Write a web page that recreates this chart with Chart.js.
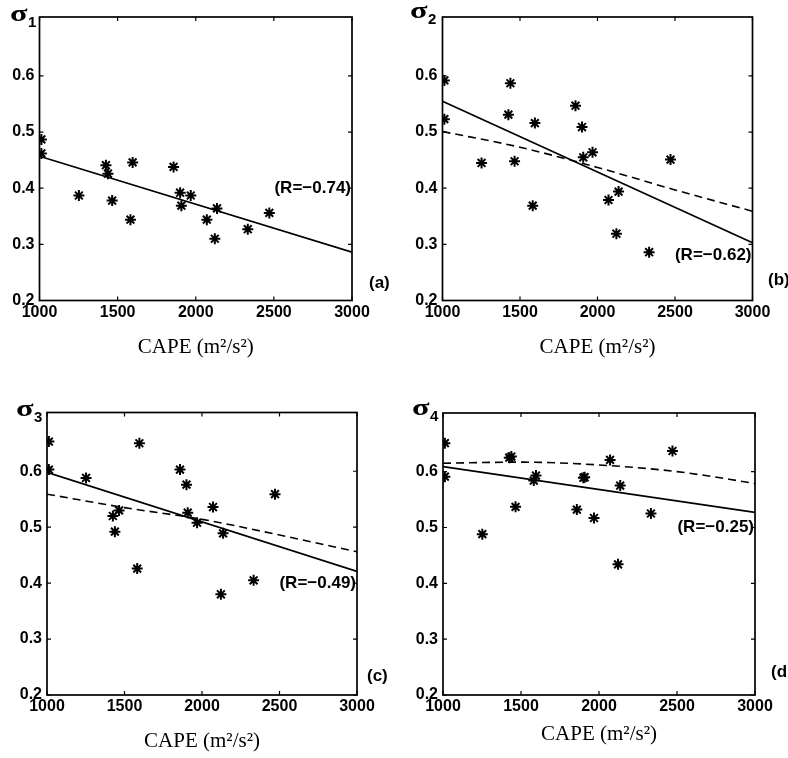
<!DOCTYPE html>
<html>
<head>
<meta charset="utf-8">
<script src="https://cdn.jsdelivr.net/npm/chart.js@4.4.1/dist/chart.umd.min.js"></script>
<style>
  body { margin: 0; background: #fff; }
  #wrap { position: relative; width: 788px; height: 758px; overflow: hidden; background: #fff; }
  .panel { position: absolute; width: 394px; height: 379px; }
</style>
</head>
<body>
<div id="wrap">
  <div class="panel" style="left:0;top:0"><canvas id="pa" width="394" height="379"></canvas></div>
  <div class="panel" style="left:394px;top:0"><canvas id="pb" width="394" height="379"></canvas></div>
  <div class="panel" style="left:0;top:379px"><canvas id="pc" width="394" height="379"></canvas></div>
  <div class="panel" style="left:394px;top:379px"><canvas id="pd" width="394" height="379"></canvas></div>
</div>
<script>
// CAPE of each case (m2/s2), same cases in all four panels
const cape = [1012, 1012, 1252, 1425, 1438, 1465, 1582, 1596, 1858, 1900, 1908, 1968, 2071, 2122, 2136, 2333, 2471];
const sigma1 = [0.487, 0.462, 0.387, 0.441, 0.426, 0.378, 0.344, 0.446, 0.438, 0.392, 0.369, 0.387, 0.344, 0.310, 0.364, 0.327, 0.356];
const sigma2 = [0.592, 0.523, 0.445, 0.531, 0.587, 0.448, 0.369, 0.516, 0.547, 0.509, 0.455, 0.464, 0.379, 0.319, 0.394, 0.286, 0.451];
const sigma3 = [0.653, 0.603, 0.588, 0.520, 0.492, 0.530, 0.426, 0.650, 0.603, 0.576, 0.526, 0.508, 0.536, 0.380, 0.489, 0.405, 0.559];
const sigma4 = [0.651, 0.591, 0.488, 0.625, 0.627, 0.537, 0.584, 0.593, 0.532, 0.589, 0.590, 0.517, 0.621, 0.434, 0.575, 0.525, 0.637];

// regression lines (solid)
const fitX = [1000, 3000];
const fit1 = [0.457, 0.286];
const fit2 = [0.555, 0.303];
const fit3 = [0.598, 0.421];
const fit4 = [0.609, 0.527];

// dashed curves (panels b, c, d)
const curveX = [1000, 1500, 2000, 2500, 3000];
const curve2 = [0.501, 0.473, 0.437, 0.397, 0.359];
const curve3 = [0.559, 0.535, 0.514, 0.486, 0.456];
const curve4 = [0.615, 0.617, 0.612, 0.600, 0.579];

const xTicks = [1000, 1500, 2000, 2500, 3000];
const yTicks = [0.2, 0.3, 0.4, 0.5, 0.6];

const sigmaSubs = ['1', '2', '3', '4'];
const rTexts = ['(R=\u22120.74)', '(R=\u22120.62)', '(R=\u22120.49)', '(R=\u22120.25)'];
const panelTags = ['(a)', '(b)', '(c)', '(d'];
const xTitle = 'CAPE (m\u00b2/s\u00b2)';

const sans = '"Liberation Sans", Arial, sans-serif';

function pairs(xs, ys) {
  return xs.map((x, i) => ({ x: x, y: ys[i] }));
}

// box + inward ticks + the small texts, drawn on the chart's own scales
const framePlugin = {
  id: 'frame',
  afterDraw(chart, args, o) {
    const ctx = chart.ctx;
    const a = chart.chartArea;
    const xs = chart.scales.x, ys = chart.scales.y;
    ctx.save();
    ctx.strokeStyle = '#000';
    ctx.lineWidth = 1.7;
    ctx.strokeRect(a.left, a.top, a.right - a.left, a.bottom - a.top);
    ctx.lineWidth = 1.2;
    ctx.beginPath();
    xTicks.forEach(v => {
      const px = xs.getPixelForValue(v);
      ctx.moveTo(px, a.bottom); ctx.lineTo(px, a.bottom - 4);
      ctx.moveTo(px, a.top); ctx.lineTo(px, a.top + 4);
    });
    yTicks.forEach(v => {
      const py = ys.getPixelForValue(v);
      ctx.moveTo(a.left, py); ctx.lineTo(a.left + 4, py);
      ctx.moveTo(a.right, py); ctx.lineTo(a.right - 4, py);
    });
    ctx.stroke();

    ctx.fillStyle = '#000';
    // sigma label (wide, squat symbol glyph like the original)
    ctx.textAlign = 'left';
    ctx.textBaseline = 'alphabetic';
    ctx.save();
    ctx.translate(o.sig[0], o.sig[1]);
    ctx.scale(1.4, 1);
    ctx.font = 'bold 23px "Liberation Serif", serif';
    ctx.fillText('\u03c3', 0, 0);
    ctx.restore();
    ctx.font = 'bold 15px ' + sans;
    ctx.fillText(o.sub, o.sig[0] + 18, o.sig[1] + 6);
    // correlation text, right aligned to the box
    ctx.font = 'bold 17px ' + sans;
    ctx.textAlign = 'right';
    ctx.textBaseline = 'middle';
    ctx.fillText(o.r, a.right - 1, ys.getPixelForValue(o.rAt));
    // panel tag
    ctx.textAlign = 'left';
    ctx.fillText(o.tag, o.tagPos[0], o.tagPos[1]);
    ctx.restore();
  }
};

function makePanel(id, sig, fit, curve, box, opts) {
  const datasets = [{
    data: pairs(cape, sig),
    pointStyle: 'star',
    pointRadius: 5.5,
    pointBorderWidth: 2,
    borderColor: '#000',
    backgroundColor: '#000',
    showLine: false
  }, {
    data: pairs(fitX, fit),
    showLine: true,
    pointRadius: 0,
    borderColor: '#000',
    borderWidth: 1.7
  }];
  if (curve) {
    datasets.push({
      data: pairs(curveX, curve),
      showLine: true,
      pointRadius: 0,
      borderColor: '#000',
      borderWidth: 1.6,
      borderDash: [8, 5],
      cubicInterpolationMode: 'monotone'
    });
  }
  const xH = box.titleY - box.B + 12.6;
  return new Chart(document.getElementById(id), {
    type: 'scatter',
    data: { datasets: datasets },
    plugins: [framePlugin],
    options: {
      responsive: false,
      animation: false,
      layout: { padding: { left: 0, top: box.T, right: 394 - box.R, bottom: 379 - box.B - xH } },
      plugins: {
        legend: { display: false },
        tooltip: { enabled: false },
        frame: opts
      },
      scales: {
        x: {
          type: 'linear', min: 1000, max: 3000,
          grid: { display: false, drawTicks: false },
          border: { display: false },
          afterBuildTicks: s => { s.ticks = xTicks.map(v => ({ value: v })); },
          afterFit: s => { s.height = xH; },
          ticks: { color: '#000', padding: 2, callback: v => String(v),
                   font: { family: sans, size: 16, weight: 'bold' } },
          title: { display: true, text: xTitle, color: '#000', padding: 0,
                   font: { family: '"Liberation Serif", "Times New Roman", serif', size: 21 } }
        },
        y: {
          type: 'linear', min: 0.2, max: 0.705,
          grid: { display: false, drawTicks: false },
          border: { display: false },
          afterBuildTicks: s => { s.ticks = yTicks.map(v => ({ value: v })); },
          afterFit: s => { s.width = box.L; },
          ticks: { color: '#000', padding: 5, callback: v => v.toFixed(1),
                   font: { family: sans, size: 16, weight: 'bold' } }
        }
      }
    }
  });
}

makePanel('pa', sigma1, fit1, null,
  { L: 39.5, T: 17, R: 352, B: 300.5, titleY: 347 },
  { sig: [10, 21], sub: sigmaSubs[0], r: rTexts[0], rAt: 0.4, tag: panelTags[0], tagPos: [369, 283] });
makePanel('pb', sigma2, fit2, curve2,
  { L: 48.5, T: 17, R: 358.5, B: 300.5, titleY: 347 },
  { sig: [16, 18], sub: sigmaSubs[1], r: rTexts[1], rAt: 0.28, tag: panelTags[1], tagPos: [374, 280] });
makePanel('pc', sigma3, fit3, curve3,
  { L: 47, T: 33.5, R: 357, B: 316, titleY: 362 },
  { sig: [16, 37], sub: sigmaSubs[2], r: rTexts[2], rAt: 0.4, tag: panelTags[2], tagPos: [367, 297] });
makePanel('pd', sigma4, fit4, curve4,
  { L: 49, T: 34, R: 361, B: 316, titleY: 355 },
  { sig: [18, 36], sub: sigmaSubs[3], r: rTexts[3], rAt: 0.5, tag: panelTags[3], tagPos: [377, 293] });
</script>
</body>
</html>
